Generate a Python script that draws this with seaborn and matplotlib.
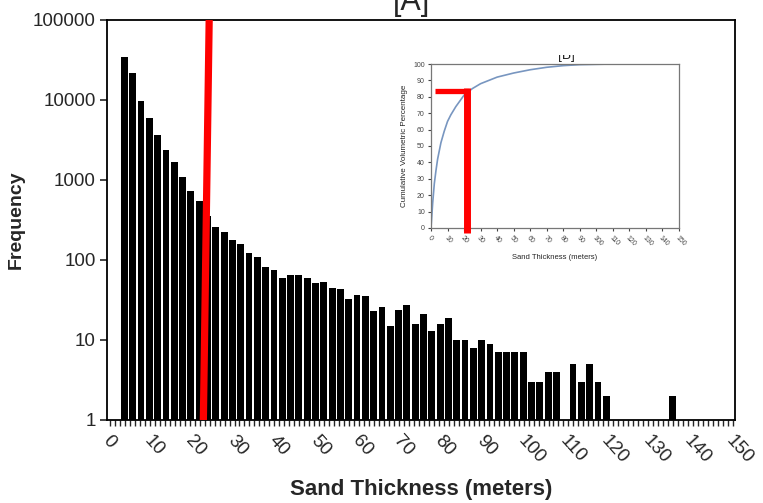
import numpy as np
import pandas as pd
import matplotlib
matplotlib.use("Agg")
import matplotlib.pyplot as plt
from matplotlib.ticker import FixedLocator, NullLocator
from matplotlib.transforms import Bbox, TransformedBbox, ScaledTranslation
import seaborn as sns

# panel A: 2 m bins (centre, metres) and counts
bin_centres = np.arange(3, 150, 2)
frequency = [34000, 22000, 9800, 5900, 3650, 2400, 1660, 1100, 735, 550,
             350, 255, 225, 178, 158, 123, 108, 82, 75, 60,
             65, 65, 59, 51, 53, 45, 43, 33, 37, 35,
             23, 26, 15, 24, 27, 16, 21, 13, 16, 19,
             10, 10, 8, 10, 9, 7, 7, 7, 7, 3,
             3, 4, 4, 0, 5, 3, 5, 3, 2, 0,
             0, 0, 0, 0, 0, 0, 2, 0, 0, 0,
             0, 0, 0, 0]
freq_ticks = [1, 10, 100, 1000, 10000, 100000]
thick_ticks = list(range(0, 151, 10))

# panel B: cumulative volumetric percentage
cum_thickness = [0, 1, 2, 3, 4, 6, 8, 10, 12, 15, 20, 25, 30, 35, 40, 50,
                 60, 70, 80, 90, 100, 110, 120, 130, 140, 150]
cum_percent = [0, 15, 27, 35, 42, 52, 59, 65, 69, 74, 81, 85, 88, 90, 92, 94.5,
               96.5, 98, 99, 99.6, 99.8, 100, 100, 100, 100, 100]
pct_ticks = list(range(0, 101, 10))

# hand-drawn red cut-off markers
cutoff_main_x = [22.0, 23.4]
cutoff_main_y = [1, 100000]
cutoff_inset_pct = 83.7
cutoff_inset_x = 21.8

sns.set_style("ticks")
plt.rcParams["font.family"] = ["Liberation Sans", "DejaVu Sans"]

W, H = 763, 503
fig = plt.figure(figsize=(W / 100, H / 100), dpi=100)


def px_axes(x0, y0, x1, y1):
    return fig.add_axes([x0 / W, 1 - y1 / H, (x1 - x0) / W, (y1 - y0) / H])


ax = px_axes(107, 20, 735, 420)
df = pd.DataFrame({"thickness": bin_centres, "frequency": frequency})
sns.barplot(data=df[df["frequency"] > 0], x="thickness", y="frequency",
            native_scale=True, color="black", saturation=1, width=0.82,
            errorbar=None, linewidth=0, ax=ax)
ax.set_yscale("log")
ax.set_ylim(1, 100000)
ax.set_xlim(-1.2, 150)
ax.yaxis.set_major_locator(FixedLocator(freq_ticks))
ax.yaxis.set_minor_locator(NullLocator())
ax.set_yticklabels([str(v) for v in freq_ticks], fontsize=13.5)
ax.set_xticks(thick_ticks)
ax.set_xticklabels([str(v) for v in thick_ticks], fontsize=13.5, rotation=-48,
                   ha="left", va="top", rotation_mode="anchor")
shift = ScaledTranslation(0.05, 0, fig.dpi_scale_trans)
for lab in ax.get_xticklabels():
    lab.set_transform(lab.get_transform() + shift)
ax.xaxis.set_minor_locator(FixedLocator(np.arange(-0.5, 150.1, 1.2)))
ax.tick_params(axis="x", which="major", length=0, pad=9)
ax.tick_params(axis="x", which="minor", length=4, width=1, direction="out")
ax.tick_params(axis="y", which="major", length=5, width=1.2, pad=3)
for s in ax.spines.values():
    s.set_visible(True)
    s.set_linewidth(1.3)
    s.set_color("black")
ax.set_xlabel("Sand Thickness (meters)", fontsize=16, fontweight="bold")
ax.xaxis.set_label_coords(0.5, -0.148)
ax.set_ylabel("Frequency", fontsize=14, fontweight="bold", labelpad=6)
ax.plot(cutoff_main_x, cutoff_main_y, color="red", lw=5.2, solid_capstyle="butt", zorder=5)

fig.text(412 / W, 1 - 17 / H, "[A]", fontsize=22, ha="center", va="bottom")

# inset B
ins = px_axes(431, 64, 679, 228)
sns.lineplot(x=cum_thickness, y=cum_percent, color="#7896c0", lw=1.2, ax=ins)
ins.set_xlim(0, 150)
ins.set_ylim(0, 100)
ins.set_xticks(thick_ticks)
ins.set_xticklabels([str(v) for v in thick_ticks], fontsize=5, rotation=-45,
                    ha="left", va="top", rotation_mode="anchor")
ins.set_yticks(pct_ticks)
ins.set_yticklabels([str(v) for v in pct_ticks], fontsize=5)
ins.tick_params(length=2.5, width=0.8, pad=2, colors="#444444")
for s in ins.spines.values():
    s.set_visible(True)
    s.set_linewidth(0.9)
    s.set_color("#777777")
ins.set_xlabel("Sand Thickness (meters)", fontsize=5.5, labelpad=5)
ins.set_ylabel("Cumulative Volumetric Percentage", fontsize=5.8, labelpad=4)
ins.plot([2.4, cutoff_inset_x + 1.0], [cutoff_inset_pct, cutoff_inset_pct],
         color="red", lw=3.8, solid_capstyle="butt", zorder=5, clip_on=False)
ins.plot([cutoff_inset_x, cutoff_inset_x], [cutoff_inset_pct + 1.5, -3],
         color="red", lw=5, solid_capstyle="butt", zorder=5, clip_on=False)

tb = fig.text(566 / W, 1 - 62 / H, "[B]", fontsize=10, ha="center", va="bottom")
tb.set_clip_box(TransformedBbox(Bbox([[540 / W, 1 - 64 / H], [590 / W, 1 - 55 / H]]),
                                fig.transFigure))
tb.set_clip_on(True)

fig.savefig("out.png", dpi=100)
